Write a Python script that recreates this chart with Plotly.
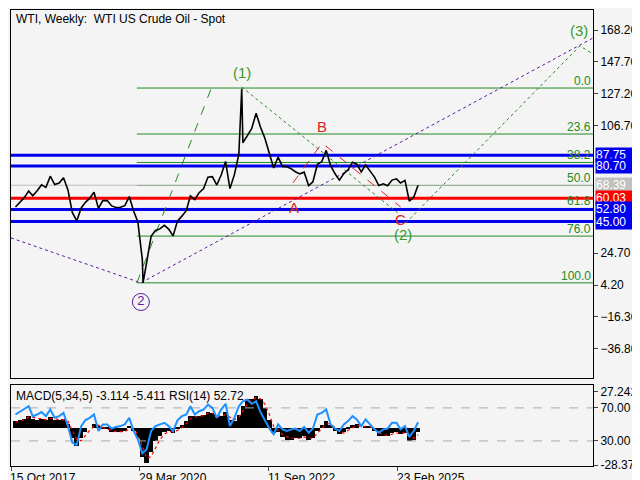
import plotly.graph_objects as go
import pandas as pd

months = pd.date_range("2017-10-15", periods=93, freq="MS") + pd.Timedelta(days=14)
close = [54.4,57.4,60.4,
 64.7,61.6,64.9,68.6,67.0,74.2,68.8,69.8,73.2,65.3,50.9,45.4,
 53.8,57.2,60.1,63.9,53.5,58.5,58.6,55.1,54.1,54.2,55.2,61.1,
 51.6,44.8,20.5,18.8,35.5,39.3,40.3,42.6,40.2,35.8,45.3,48.5,
 52.2,61.5,59.2,63.6,66.3,73.5,73.9,68.5,75.0,83.6,66.2,75.2,
 88.2,95.7,100.3,104.7,114.7,105.8,98.6,89.6,79.5,86.5,80.5,80.3,
 78.9,77.1,75.7,76.8,68.1,70.6,81.8,83.6,90.8,81.0,75.9,71.7,
 75.9,78.3,83.2,81.9,77.0,81.5,77.9,73.6,68.2,69.3,68.0,71.7,
 72.5,69.8,71.5,58.2,60.8,68.4]
spike_dates = ["2020-04-20", "2022-03-07"]
spike_vals = [5.6, 130.5]
rsi = [62,65,68, 72,60,62,65,60,68,58,60,64,48,28,25,
 48,55,58,62,42,50,50,45,47,48,50,58, 42,32,15,20,42,48,50,52,48,42,55,60,
 62,72,62,66,68,74,70,58,68,75,48,58, 72,78,80,75,78,65,55,45,38,50,44,42,
 44,45,42,47,40,45,62,64,68,50,45,42, 50,54,60,56,48,56,50,44,40,44,45,52,
 52,44,48,35,42,52.7]
macd = [5,6,7, 9,7,6,7,6,8,6,6,7,3,-8,-14,
 -8,-3,0,3,1,-1,-1,-3,-3,-3,-2,1, -2,-8,-22,-27,-18,-10,-6,-3,-2,-4,-1,2,
 5,9,9,9,10,12,11,8,9,12,6,5, 10,17,22,22,24,22,15,6,-4,-3,-7,-9,
 -9,-8,-8,-6,-9,-8,-2,2,5,2,-2,-5, -3,-1,2,3,0,1,1,-2,-6,-6,-6,-4,
 -3,-5,-4,-10,-9,-3.1]
signal = [4,5,6, 8,8,7,7,6,7,7,6,6,5,-2,-9,
 -10,-6,-2,1,2,0,-1,-2,-3,-3,-3,-1, -1,-5,-15,-23,-22,-15,-9,-5,-3,-3,-2,0,
 3,7,8,9,9,11,11,9,9,10,8,6, 8,13,18,21,23,22,18,10,1,-2,-5,-7,
 -8,-8,-8,-7,-8,-8,-4,0,3,3,0,-3, -4,-2,0,2,1,1,1,-1,-4,-5,-6,-5,
 -4,-4,-4,-7,-8,-5.4]

levels_blue = [87.75, 80.70, 52.80, 45.00]
level_red = 60.03
level_grey = 68.39
fib_pct = [0.0, 23.6, 38.2, 50.0, 61.8, 76.0, 100.0]
fib_hi, fib_lo = 130.9, 5.6

pts = sorted(list(zip(months, close)) + [(pd.Timestamp(d), v) for d, v in zip(spike_dates, spike_vals)])
px_dates = [p[0] for p in pts]; px_vals = [p[1] for p in pts]

X0, X1 = "2017-10-15", "2028-11-12"
fig = go.Figure()
BG = "#f4f4f4"
FONT = "Liberation Sans"

def seg(xs, ys, color, dash, w=1):
    fig.add_trace(go.Scatter(x=xs, y=ys, mode="lines", line=dict(color=color, dash=dash, width=w), xaxis="x", yaxis="y"))

for p in fib_pct:
    v = fib_hi - (fib_hi - fib_lo) * p / 100
    seg(["2020-03-08", X1], [v, v], "#228b22", "solid", 1)
    fig.add_annotation(x=1, xref="paper", y=v, yref="y", text=f"{p:.1f}", showarrow=False,
                       xanchor="right", yanchor="bottom", font=dict(color="#228b22", size=12), yshift=-2)
seg([X0, X1], [level_grey]*2, "#bdbdbd", "solid", 1)
for v in levels_blue:
    seg([X0, X1], [v, v], "#0000ee", "solid", 3)
seg([X0, X1], [level_red]*2, "#ff0000", "solid", 3)

seg(["2017-10-15", "2020-04-05", "2028-11-12"], [34.5, 5.6, 163.1], "#5a1a9a", "dot", 1)
seg(["2020-03-08", "2021-08-08"], [5.6, 131], "#228b22", "dash", 1)
seg(["2022-03-06", "2025-02-23"], [131.6, 50.6], "#228b22", "dot", 1)
seg(["2025-04-20", "2028-08-13", "2028-11-12"], [44.1, 158, 152.8], "#228b22", "dot", 1)
seg(["2023-02-26", "2023-09-17", "2025-03-16"], [69.9, 95.6, 54.4], "#dd2222", "dash", 1)

fig.add_trace(go.Scatter(x=px_dates, y=px_vals, mode="lines", line=dict(color="black", width=1.6), xaxis="x", yaxis="y"))

labels = [("(1)", "2022-03-06", 141.2, "#3a9a2a"), ("(2)", "2025-03-30", 36.4, "#3a9a2a"),
          ("(3)", "2028-08-06", 168.2, "#3a9a2a"), ("A", "2023-03-05", 53.8, "#dd2222"),
          ("B", "2023-09-17", 105.9, "#dd2222"), ("C", "2025-03-16", 46.1, "#dd2222")]
for t, d, v, c in labels:
    fig.add_annotation(x=d, y=v, xref="x", yref="y", text=t, showarrow=False, font=dict(color=c, size=15))
fig.add_trace(go.Scatter(x=["2020-04-05"], y=[-6.7], mode="markers+text", text=["2"], textposition="middle center",
                         textfont=dict(color="#5a1a9a", size=13),
                         marker=dict(symbol="circle-open", size=17, color="#5a1a9a", line=dict(width=1)),
                         xaxis="x", yaxis="y"))

for v, bg in [(87.75, "#0000ee"), (80.70, "#0000ee"), (68.39, "#c0c0c0"),
              (60.03, "#ff0000"), (52.80, "#0000ee"), (45.00, "#0000ee")]:
    fig.add_annotation(x=1, xref="paper", y=v, yref="y", text=f"{v:.2f}", showarrow=False, xanchor="left",
                       bgcolor=bg, font=dict(color="white", size=12, family=FONT), width=38, align="left",
                       borderpad=0, xshift=2)

fig.add_trace(go.Bar(x=list(months), y=macd, marker=dict(color="black", line=dict(width=0)), width=2.7e9, xaxis="x2", yaxis="y2"))
fig.add_trace(go.Scatter(x=list(months), y=signal, mode="lines", line=dict(color="red", dash="dot", width=1.2), xaxis="x2", yaxis="y2"))
fig.add_trace(go.Scatter(x=[X0, X1], y=[70, 70], mode="lines", line=dict(color="#aaaaaa", dash="dash", width=1), xaxis="x2", yaxis="y3"))
fig.add_trace(go.Scatter(x=[X0, X1], y=[30, 30], mode="lines", line=dict(color="#aaaaaa", dash="dash", width=1), xaxis="x2", yaxis="y3"))
fig.add_trace(go.Scatter(x=list(months), y=rsi, mode="lines", line=dict(color="#1e90ff", width=2), xaxis="x2", yaxis="y3"))

fig.add_annotation(x=0.005, xref="paper", y=1, yref="paper", text="WTI, Weekly:  WTI US Crude Oil - Spot",
                   showarrow=False, xanchor="left", yanchor="top", font=dict(size=12, color="black"))
fig.add_annotation(x=0.005, xref="paper", y=0.178, yref="paper", text="MACD(5,34,5) -3.114 -5.411 RSI(14) 52.72",
                   showarrow=False, xanchor="left", yanchor="top", font=dict(size=12, color="black"), yshift=-2)
for d in ["15 Oct 2017", "29 Mar 2020", "11 Sep 2022", "23 Feb 2025"]:
    fig.add_annotation(x=pd.Timestamp(d), xref="x2", y=0, yref="paper", text=d, showarrow=False,
                       xanchor="left", yanchor="top", font=dict(size=12, color="black"), yshift=-3, xshift=-3)

ax = dict(showgrid=False, zeroline=False, linecolor="black", mirror=True, showline=True)
fig.update_layout(
    width=640, height=480, paper_bgcolor=BG, plot_bgcolor=BG, showlegend=False,
    margin=dict(l=3, r=55, t=2, b=22, autoexpand=False), font=dict(family=FONT, size=12, color="black"),
    xaxis=dict(**ax, range=[X0, X1], domain=[0, 1], anchor="y", showticklabels=False, ticks=""),
    yaxis=dict(**ax, domain=[0.193, 1], range=[-55.6, 181.1], side="right", ticks="outside", ticklen=4,
               tickvals=[168.2, 147.7, 127.2, 106.7, 24.7, 4.2, -16.3, -36.8], tickformat=".2f"),
    xaxis2=dict(**ax, range=[X0, X1], domain=[0, 1], anchor="y2", showticklabels=False, ticks="outside", ticklen=4,
                tickvals=["2017-10-15", "2020-03-29", "2022-09-11", "2025-02-23"]),
    yaxis2=dict(**ax, domain=[0, 0.178], range=[-29.1, 32.6], side="right", ticks="outside", ticklen=4,
                tickvals=[27.242, -28.374], ticktext=["27.242", "-28.374"]),
    yaxis3=dict(showgrid=False, zeroline=False, overlaying="y2", range=[-0.3, 97.9], side="right",
                ticks="outside", ticklen=4, tickvals=[70, 30], ticktext=["70.00", "30.00"]),
    bargap=0,
)
fig.write_html("out.html")
